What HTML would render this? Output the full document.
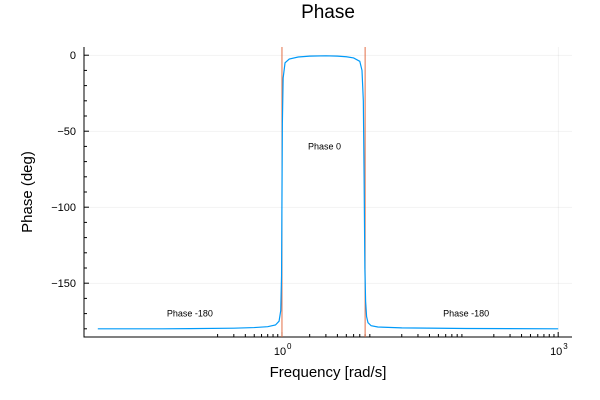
<!DOCTYPE html>
<html><head><meta charset="utf-8"><style>
body{margin:0;background:#fff}
svg{display:block;font-family:"Liberation Sans",sans-serif}
</style></head><body>
<svg id="c" width="600" height="400"></svg>
<script>
const freqs=[0.01,0.05,0.1,0.3,0.5,0.7,0.85,0.93,0.97,0.99,1.0,1.01,1.03,1.08,1.2,1.5,2,3,4,5,6,7,7.4,7.65,7.8,7.95,8.1,8.3,8.6,9.3,11,20,100,1000];
const phase=[-180,-180,-179.9,-179.6,-179.2,-178.6,-177.5,-175,-168,-145,-95,-45,-15,-5,-2.5,-1.2,-0.6,-0.4,-0.6,-1.0,-1.8,-4,-10,-30,-80,-140,-162,-172,-176,-178,-178.8,-179.4,-179.8,-180];
const vlines=[1,8];
const xMajor=[1,1000];
const xMajorLabels=["0","3"];
const yTicks=[0,-50,-100,-150];
const annotations=[{x:0.1,y:-170,t:"Phase -180"},{x:2.9,y:-60,t:"Phase 0"},{x:100,y:-170,t:"Phase -180"}];

const L=84,R=572,T=47,B=337;
const lx0=-2.15,lx1=3.15,y0=-185.4,y1=5.4;
const X=v=>L+(Math.log10(v)-lx0)/(lx1-lx0)*(R-L);
const Y=v=>B-(v-y0)/(y1-y0)*(B-T);
const svg=document.getElementById('c');const NS='http://www.w3.org/2000/svg';
function el(t,a,txt){const e=document.createElementNS(NS,t);for(const k in a)e.setAttribute(k,a[k]);if(txt!=null)e.textContent=txt;svg.appendChild(e);return e;}
for(const v of yTicks){const g=el('line',{x1:L,x2:R,y1:Y(v),y2:Y(v),stroke:'#000','stroke-opacity':0.1,'stroke-width':0.5});

}
for(const v of xMajor){const g=el('line',{x1:X(v),x2:X(v),y1:T,y2:B,stroke:'#000','stroke-opacity':0.1,'stroke-width':0.5});

}
const ax=el('polyline',{points:`${L},${T} ${L},${B} ${R},${B}`,fill:'none',stroke:'#000','stroke-width':1});


for(const v of yTicks){const t=el('line',{x1:L,x2:L+5,y1:Y(v),y2:Y(v),stroke:'#000'});


const lb=el('text',{x:L-8,y:Y(v)+4,'text-anchor':'end','font-size':11},v<0?'\u2212'+(-v):String(v));

}
for(let v=-180;v<=0;v+=10){if(v%50===0)continue;const t=el('line',{x1:L,x2:L+3,y1:Y(v),y2:Y(v),stroke:'#000'});

}
for(let d=-1;d<3;d++)for(let m=2;m<=9;m++){const v=m*Math.pow(10,d);const t=el('line',{x1:X(v),x2:X(v),y1:B,y2:B-3,stroke:'#000'});

}
xMajor.forEach((v,i)=>{const t=el('line',{x1:X(v),x2:X(v),y1:B,y2:B-5,stroke:'#000'});


const lb=el('text',{x:X(v)-2,y:B+18,'text-anchor':'middle','font-size':11},'10');


const sp=el('text',{x:X(v)+5,y:B+12,'font-size':8},xMajorLabels[i]);

});
for(const v of vlines){const l=el('line',{x1:X(v),x2:X(v),y1:T,y2:B,stroke:'#e26f46','stroke-width':1});

}
const p=el('polyline',{points:freqs.map((f,i)=>X(f)+','+Y(phase[i])).join(' '),fill:'none',stroke:'#009af9','stroke-width':1.2});


for(const a of annotations){const t=el('text',{x:X(a.x),y:Y(a.y)+3,'text-anchor':'middle','font-size':9},a.t);

}
const ti=el('text',{x:328,y:18,'text-anchor':'middle','font-size':19},'Phase');


const xt=el('text',{x:328,y:377,'text-anchor':'middle','font-size':15},'Frequency [rad/s]');


const yt=el('text',{x:32,y:192,'text-anchor':'middle','font-size':15,transform:'rotate(-90 32 192)'},'Phase (deg)');


</script>
</body></html>
